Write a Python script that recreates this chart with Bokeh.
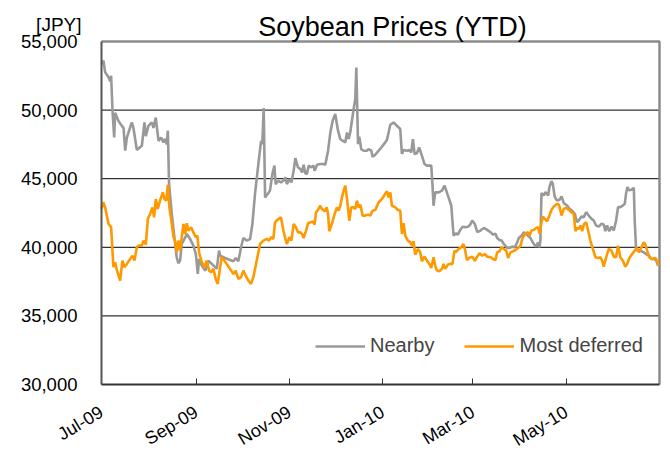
import pandas as pd
from bokeh.plotting import figure
from bokeh.models import (Range1d, FixedTicker, NumeralTickFormatter, Label, Legend,
                          DatetimeTickFormatter)
from bokeh.embed import file_html
from bokeh.resources import INLINE

# ---------------- data ----------------
start_date = "2009-07-01"
end_date = "2010-07-01"
x_tick_dates = ["2009-07-01", "2009-09-01", "2009-11-01", "2010-01-01", "2010-03-01", "2010-05-01"]
y_ticks = [30000, 35000, 40000, 45000, 50000, 55000]
series_names = ["Nearby", "Most deferred"]
title_text = "Soybean Prices (YTD)"
unit_text = "[JPY]"

# days since 2009-07-01
nearby_days = [
    0, 1.3, 2.4, 4.6, 5.7, 6.3, 7.2, 8.3, 8.9, 11.1,
    13.3, 14.4, 15.5, 16.6, 19.8, 20.9, 23.1, 26.4, 28.1, 29.0,
    30.7, 32.9, 34.0, 35.5, 37.3, 39.0, 40.5, 41.6, 42.7, 43.4,
    44.2, 46.0, 47.7, 49.2, 50.3, 51.4, 52.5, 54.7, 55.8, 58.0,
    60.1, 61.7, 63.0, 63.8, 65.6, 67.8, 68.8, 69.9, 72.1, 74.3,
    75.4, 76.9, 77.6, 80.8, 84.1, 86.3, 87.8, 89.5, 91.3, 92.8,
    95.0, 97.2, 98.7, 100.4, 102.6, 104.4, 105.2, 106.1, 107.0, 108.7,
    110.2, 111.8, 113.1, 113.9, 115.7, 117.4, 119.0,
    120.3, 121.3, 122.9, 124.2, 125.7, 126.8, 128.5, 130.1, 131.2, 132.2,
    133.3, 134.4, 135.5, 137.3, 138.8, 139.4, 141.0, 143.1, 145.3, 146.4,
    148.2, 149.7, 151.2, 152.9, 154.7, 156.2, 157.7, 159.5, 160.6, 161.7,
    162.7, 163.8, 164.9, 166.0, 166.7, 167.8, 168.6, 169.9, 171.5, 173.6,
    174.7, 176.5, 177.3, 179.1, 181.3, 183.4, 185.6, 186.7, 187.8, 188.9,
    191.1, 193.2, 195.4, 196.5, 197.6, 199.8, 201.3, 202.6, 203.7, 204.8,
    206.3, 207.8, 209.6, 211.3, 212.9, 213.9, 215.7, 216.6, 217.2, 218.3,
    220.5, 222.7, 224.4, 225.9, 227.0, 228.8, 230.3, 231.8, 233.1, 234.6,
    236.2, 237.9, 239.7, 241.2,
    242.5, 244.2, 245.8, 247.9, 250.1, 252.3, 254.5, 256.0, 257.7, 258.8,
    260.3, 261.7, 263.2, 265.4, 266.9, 268.6, 270.4, 271.9, 273.0, 274.7,
    276.3, 277.8, 279.5, 280.6, 281.7, 282.8, 284.3, 285.6, 286.5, 287.1,
    287.8, 289.3, 290.4, 292.2, 293.0, 294.3, 295.2, 296.5, 298.0, 299.6,
    300.9, 302.4, 304.6, 306.1, 307.8, 309.6, 311.1, 312.2, 313.9, 315.5,
    317.0, 318.7, 320.5, 322.0, 323.5, 325.3, 327.0, 328.5, 329.6, 330.7,
    332.2, 333.6, 335.1, 336.6, 337.9, 339.4, 341.0, 342.3, 343.1, 344.0,
    344.9, 346.6, 348.2, 348.8, 349.7, 351.4, 353.2, 354.7, 356.2, 358.0,
    359.7, 361.2, 362.7, 364.1,
]
nearby_vals = [
    53350, 53600, 52750, 52400, 52100, 52500, 49950, 48000, 49800, 49200,
    48850, 48700, 47050, 48000, 49100, 48700, 47100, 47400, 49100, 48100,
    48850, 49100, 48700, 49450, 47750, 48000, 47650, 47900, 47500, 48500,
    44600, 42400, 40700, 39270, 38840, 39030, 40250, 40700, 40970, 40600,
    40120, 39520, 38060, 39150, 38670, 38300, 38550, 39030, 38790, 38550,
    38430, 39760, 39390, 39220, 39080, 38980, 39220, 38980, 40000, 40680,
    40490, 40600, 41700, 43880, 46070, 47760, 47520, 50150, 43640, 43880,
    44130, 45340, 45950, 44610, 44850, 44730, 44850,
    45100, 44610, 44970, 44730, 45580, 46500, 45830, 45700, 45460, 46020,
    45390, 45340, 45950, 45830, 45950, 45580, 46020, 46070, 46070, 46020,
    47040, 48370, 49220, 49710, 48500, 47890, 47770, 47650, 48370, 47890,
    48370, 49220, 50070, 50800, 53110, 47520, 48060, 47160, 47040, 47040,
    47160, 47040, 46600, 46750, 47040, 47330, 47650, 47820, 48370, 48930,
    49100, 48860, 48620, 46800, 47090, 47040, 47090, 46920, 47890, 46800,
    46850, 47280, 46670, 46070, 45950, 45950, 45950, 44370, 43030, 44000,
    44000, 44130, 44490, 44000, 43640, 43030, 40850, 41020, 40920, 41260,
    41500, 41460, 41500, 41650,
    41950, 41700, 41100, 41220, 41410, 41270, 41100, 40930, 40980, 40680,
    40540, 40490, 40240, 39950, 39950, 40050, 40000, 40370, 40680, 40850,
    41100, 40980, 40780, 40680, 40440, 40240, 40050, 40370, 40000, 40490,
    43950, 43780, 44020, 43780, 44390, 44830, 44630, 43660, 43410, 43460,
    43710, 43220, 43050, 42800, 42680, 42440, 41830, 41950, 42240, 42200,
    42560, 42320, 42070, 41950, 41590, 41510, 41710, 41660, 41170, 41590,
    41170, 41510, 41220, 41950, 42930, 42930, 43050, 43170, 43900, 44390,
    44150, 44200, 44340, 41950, 39800, 39760, 39710, 39630, 39510, 39390,
    39150, 39150, 39070, 38660,
]

deferred_days = [
    0, 1.1, 2.4, 4.6, 6.3, 7.8, 8.9, 10.0, 12.2, 13.7,
    15.0, 16.6, 18.7, 20.3, 21.6, 23.1, 24.2, 26.4, 27.5, 29.0,
    30.3, 31.8, 33.3, 34.4, 35.5, 36.8, 38.3, 40.1, 41.2, 42.3,
    43.4, 44.4, 46.0, 47.1, 48.1, 49.2, 50.3, 51.4, 52.5, 53.6,
    54.7, 55.8, 56.9, 58.6, 60.1, 61.7, 62.7, 63.8, 65.6, 67.3,
    68.8, 70.4, 71.7, 73.2, 74.7, 76.0, 77.6, 78.6, 80.4, 82.6,
    84.8, 86.3, 87.8, 89.5, 91.3, 92.8, 94.3, 96.1, 97.8, 99.3,
    100.9, 102.6, 103.7, 105.9, 108.1, 109.6, 110.9, 112.4, 113.5, 115.7,
    117.4, 119.0,
    120.3, 121.3, 122.9, 124.2, 125.7, 127.2, 128.5, 130.1, 131.2, 132.2,
    133.8, 135.1, 136.6, 138.1, 139.4, 140.3, 141.6, 142.9, 144.2, 146.0,
    147.3, 148.2, 149.0, 150.8, 152.5, 154.0, 155.1, 156.2, 157.3, 158.4,
    159.5, 160.6, 162.1, 163.4, 164.9, 166.0, 167.1, 168.2, 169.3, 170.8,
    172.5, 174.3, 175.8, 177.3, 179.1, 181.3, 183.4, 185.2, 186.7, 187.8,
    188.9, 190.0, 192.2, 193.9, 195.4, 196.5, 197.6, 198.7, 200.4, 202.0,
    203.1, 204.1, 205.2, 207.0, 208.5, 209.6, 211.3, 212.9, 214.4, 215.7,
    217.2, 218.3, 219.4, 220.9, 222.7, 223.7, 224.8, 226.6, 228.1, 229.6,
    230.9, 231.8, 233.6, 235.3, 236.8, 237.9, 239.0, 240.5,
    242.5, 244.2, 245.8, 247.3, 249.0, 250.8, 252.3, 254.5, 256.0, 257.7,
    258.8, 260.3, 261.7, 263.2, 264.7, 266.0, 267.5, 269.1, 270.8, 272.5,
    274.1, 275.2, 276.3, 277.3, 279.1, 280.0, 281.3, 282.8, 284.3, 285.6,
    286.5, 287.8, 288.7, 290.0, 291.5, 293.0, 294.3, 295.9, 297.4, 298.7,
    299.6, 300.9, 302.4, 303.9, 305.7, 307.4, 308.9, 310.0, 311.1, 312.2,
    313.3, 314.4, 315.5, 317.0, 318.3, 319.8, 321.4, 323.1, 324.8, 326.4,
    327.5, 328.5, 330.1, 331.8, 333.6, 335.1, 336.6, 337.9, 339.4, 341.0,
    342.7, 343.8, 345.3, 347.1, 348.8, 350.3, 351.4, 353.2, 354.7, 355.8,
    356.9, 358.4, 360.1, 362.3, 363.4, 364.5,
]
deferred_vals = [
    42800, 43280, 42910, 41700, 41460, 38550, 38910, 38350, 37570, 39030,
    38550, 38790, 39150, 39390, 39030, 40000, 40120, 40120, 40490, 40200,
    42060, 42430, 42910, 42180, 43520, 42790, 43400, 44000, 43520, 43400,
    44560, 42910, 41700, 40730, 40490, 39640, 40490, 39760, 40730, 41700,
    40970, 41750, 41210, 41460, 41090, 40730, 40850, 39640, 38910, 38550,
    39030, 38300, 38180, 38430, 37700, 37330, 38550, 39270, 39030, 38670,
    38300, 38060, 38300, 37700, 37820, 38300, 37940, 37570, 37330, 37820,
    38670, 39640, 40240, 40490, 40610, 40490, 40730, 40610, 41820, 42060,
    42180, 41210,
    40610, 40240, 40730, 40490, 41700, 41460, 41090, 41090, 40970, 40680,
    41210, 41750, 41820, 41890, 41650, 42550, 42720, 43030, 42790, 42620,
    42910, 42430, 41170, 41750, 42430, 42910, 42670, 43030, 43640, 44130,
    44490, 43520, 41940, 42910, 42910, 42790, 43400, 42910, 43110, 42310,
    42310, 42380, 42310, 42670, 42720, 43280, 43520, 43830, 44080, 43640,
    44000, 43030, 42910, 42720, 42670, 40970, 41750, 40850, 40490, 40360,
    40120, 40440, 39470, 39880, 39640, 38980, 39320, 39030, 38790, 38500,
    39270, 38670, 38300, 38250, 38430, 38790, 38430, 38740, 38790, 38790,
    39760, 39640, 39880, 40000, 40240, 39760, 39080, 39220,
    39320, 39020, 39320, 39560, 39390, 39510, 39320, 39270, 39150, 39070,
    39630, 39710, 40000, 39880, 39760, 39220, 39630, 39710, 39800, 39950,
    40120, 40610, 40850, 40980, 41100, 40850, 41220, 41270, 41410, 41460,
    40980, 41830, 42240, 42070, 41900, 42320, 42730, 42980, 43120, 43170,
    42980, 42320, 42800, 42880, 42730, 42560, 42440, 41170, 41410, 41340,
    41590, 41170, 41660, 41830, 41220, 40490, 39880, 39270, 39220, 39270,
    39020, 38590, 39270, 39880, 39760, 39320, 39270, 40120, 39270, 39020,
    38590, 38780, 39220, 39510, 39760, 39950, 39630, 40000, 40370, 40200,
    39760, 39270, 39150, 39220, 39020, 38660,
]

# ---------------- layout (pixels) ----------------
FONT = "Liberation Sans"
W, H = 662, 451
BOX_L, BOX_R, BOX_T, BOX_B = 101, 659, 41, 384   # visible plot box inside the canvas

epoch = pd.Timestamp("1970-01-01")
def ms(d):
    return (pd.Timestamp(d) - epoch) / pd.Timedelta(milliseconds=1)

x0, x1 = ms(start_date), ms(end_date)
y0, y1 = y_ticks[0], y_ticks[-1]
ppx = (x1 - x0) / (BOX_R - BOX_L)
ppy = (y1 - y0) / (BOX_B - BOX_T)
xr = Range1d(x0 - BOX_L * ppx, x1 + (W - BOX_R) * ppx)
yr = Range1d(y0 - (H - BOX_B) * ppy, y1 + BOX_T * ppy)

t0 = pd.Timestamp(start_date)
nearby_x = t0 + pd.to_timedelta(nearby_days, unit="D")
deferred_x = t0 + pd.to_timedelta(deferred_days, unit="D")
x_tick_ms = [ms(d) for d in x_tick_dates]

p = figure(width=W, height=H, x_axis_type="datetime", x_range=xr, y_range=yr,
           output_backend="svg", toolbar_location=None, title=None,
           min_border=0, min_border_left=0, min_border_right=0,
           min_border_top=0, min_border_bottom=0)
p.background_fill_color = "white"
p.border_fill_color = "white"
p.outline_line_color = None
p.xgrid.visible = False
p.ygrid.visible = False

# horizontal gridlines at the inner y ticks, across the plot box
p.segment(x0=[x0] * (len(y_ticks) - 2), x1=[x1] * (len(y_ticks) - 2),
          y0=y_ticks[1:-1], y1=y_ticks[1:-1], line_color="black", line_width=1)
# plot box top / right border
p.line([x0, x1, x1], [y1, y1, y0], line_color="#8c8c8c", line_width=2.5)

# y axis
p.yaxis.fixed_location = x0
p.yaxis.bounds = (y0, y1)
p.yaxis.ticker = FixedTicker(ticks=y_ticks)
p.yaxis.formatter = NumeralTickFormatter(format="0,0")
p.yaxis.major_tick_in = 0
p.yaxis.major_tick_out = 0
p.yaxis.minor_tick_line_color = None
p.yaxis.axis_line_color = "#555555"
p.yaxis.axis_line_width = 2
p.yaxis.major_label_standoff = 24
p.yaxis.major_label_text_font = FONT
p.yaxis.major_label_text_font_size = "18.5px"
p.yaxis.major_label_text_color = "black"

# x axis
fmt = "%b-%y"
p.xaxis.fixed_location = y0
p.xaxis.bounds = (x0, x1)
p.xaxis.ticker = FixedTicker(ticks=x_tick_ms)
p.xaxis.formatter = DatetimeTickFormatter(milliseconds=fmt, seconds=fmt, minsec=fmt, minutes=fmt,
                                          hourmin=fmt, hours=fmt, days=fmt, months=fmt, years=fmt)
p.xaxis.major_tick_in = 6
p.xaxis.major_tick_out = 0
p.xaxis.major_tick_line_color = "#333333"
p.xaxis.minor_tick_line_color = None
p.xaxis.axis_line_color = "#333333"
p.xaxis.axis_line_width = 2
p.xaxis.major_label_orientation = 0.54
p.xaxis.major_label_standoff = 26
p.xaxis.major_label_text_font = FONT
p.xaxis.major_label_text_font_size = "18px"
p.xaxis.major_label_text_color = "black"

r1 = p.line(nearby_x, nearby_vals, line_color="#999999", line_width=2.6)
r2 = p.line(deferred_x, deferred_vals, line_color="#ff9900", line_width=2.6)

legend = Legend(items=[(series_names[0], [r1]), (series_names[1], [r2])],
                orientation="horizontal", location=(315, 94))
legend.border_line_alpha = 0
legend.background_fill_alpha = 0
legend.label_text_font = FONT
legend.label_text_font_size = "20px"
legend.glyph_width = 50
legend.glyph_height = 20
legend.label_standoff = 5
legend.spacing = 30
legend.padding = 0
legend.margin = 0
p.add_layout(legend)

p.add_layout(Label(x=392, y=H - 26, x_units="screen", y_units="screen", text=title_text,
                   text_align="center", text_baseline="alphabetic",
                   text_font=FONT, text_font_size="27px", text_color="black"))
p.add_layout(Label(x=81, y=H - 24, x_units="screen", y_units="screen", text=unit_text,
                   text_align="right", text_baseline="alphabetic",
                   text_font=FONT, text_font_size="19px", text_color="black"))

open("out.html", "w").write(file_html(p, INLINE))
